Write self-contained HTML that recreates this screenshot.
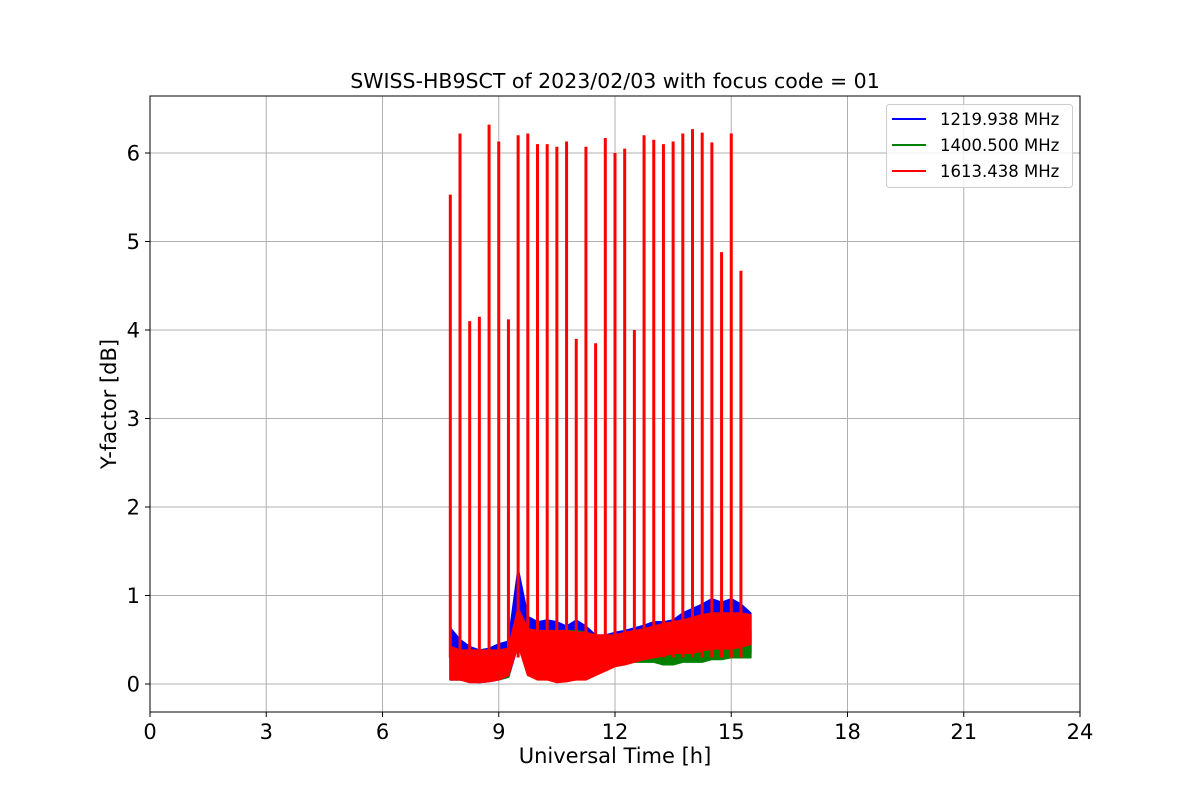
<!DOCTYPE html>
<html><head><meta charset="utf-8"><style>
body{margin:0;background:#fff}
svg text{font-family:"DejaVu Sans","Liberation Sans",sans-serif}
</style></head><body>
<svg id="chart" width="1200" height="800" xmlns="http://www.w3.org/2000/svg">
<rect width="1200" height="800" fill="#fff"/>
<g id="grid"></g>
<g id="series"></g>
<rect x="150" y="96" width="930" height="616" fill="none" stroke="#000" stroke-width="1"/>
<g id="ticks"></g>
<text x="615" y="88" font-size="20.5" text-anchor="middle">SWISS-HB9SCT of 2023/02/03 with focus code = 01</text>
<text x="615" y="763" font-size="21" text-anchor="middle">Universal Time [h]</text>
<text x="116" y="404" font-size="21" text-anchor="middle" transform="rotate(-90 116 404)">Y-factor [dB]</text>
<g>
<rect x="886.5" y="104.5" width="186" height="83" rx="3" fill="#fff" fill-opacity="0.8" stroke="#ccc"/>
<g><line x1="892" y1="119" x2="926" y2="119" stroke="#0000ff" stroke-width="2"/><text x="940" y="125" font-size="16.5">1219.938 MHz</text></g>
<g><line x1="892" y1="145" x2="926" y2="145" stroke="#008000" stroke-width="2"/><text x="940" y="151" font-size="16.5">1400.500 MHz</text></g>
<g><line x1="892" y1="171" x2="926" y2="171" stroke="#ff0000" stroke-width="2"/><text x="940" y="177" font-size="16.5">1613.438 MHz</text></g>
</g>
</svg>
<script>
const times=[7.75,8,8.25,8.5,8.75,9,9.25,9.5,9.75,10,10.25,10.5,10.75,11,11.25,11.5,11.75,12,12.25,12.5,12.75,13,13.25,13.5,13.75,14,14.25,14.5,14.75,15,15.25,15.5];
const blueHi=[.63,.5,.42,.38,.4,.45,.48,1.29,.76,.7,.72,.7,.65,.72,.65,.55,.55,.58,.6,.63,.66,.7,.7,.72,.8,.85,.9,.96,.92,.96,.9,.8];
const blueLo=[.05,.05,.03,.02,.03,.05,.08,.45,.2,.15,.15,.12,.15,.15,.15,.2,.2,.22,.25,.25,.28,.3,.3,.3,.3,.3,.32,.32,.33,.33,.33,.35];
const greenHi=[.32,.3,.3,.3,.3,.32,.35,.75,.6,.55,.6,.6,.6,.6,.58,.55,.55,.55,.56,.58,.6,.6,.6,.58,.58,.6,.6,.6,.58,.6,.6,.6];
const greenLo=[.05,.05,.03,.03,.05,.05,.08,.5,.2,.15,.15,.15,.15,.15,.18,.2,.22,.25,.25,.25,.25,.25,.22,.22,.25,.25,.25,.28,.28,.3,.3,.3];
const redHi=[.42,.38,.38,.38,.38,.38,.4,.85,.62,.6,.6,.6,.6,.58,.58,.55,.55,.55,.58,.6,.62,.65,.68,.7,.72,.75,.78,.8,.8,.8,.8,.78];
const redLo=[.05,.05,.02,.02,.03,.05,.1,.45,.1,.05,.05,.02,.03,.05,.05,.1,.15,.2,.22,.25,.28,.3,.32,.35,.35,.35,.38,.4,.4,.4,.42,.45];
const spikeTimes=[7.75,8,8.25,8.5,8.75,9,9.25,9.5,9.75,10,10.25,10.5,10.75,11,11.25,11.5,11.75,12,12.25,12.5,12.75,13,13.25,13.5,13.75,14,14.25,14.5,14.75,15,15.25];
const spikeHeights=[5.53,6.22,4.1,4.15,6.32,6.13,4.12,6.2,6.22,6.1,6.1,6.07,6.13,3.9,6.07,3.85,6.17,6.0,6.05,4.0,6.2,6.15,6.1,6.13,6.22,6.27,6.23,6.12,4.88,6.22,4.67];
const xTicks=[0,3,6,9,12,15,18,21,24];
const yTicks=[0,1,2,3,4,5,6];

const NS='http://www.w3.org/2000/svg';
const X=h=>150+h*(930/24);
const Y=v=>684-v*88.5;
function mk(tag,attrs,parent){const e=document.createElementNS(NS,tag);for(const k in attrs)e.setAttribute(k,attrs[k]);parent.appendChild(e);return e;}
const grid=document.getElementById('grid'),ticks=document.getElementById('ticks'),series=document.getElementById('series');
xTicks.forEach(t=>{
  const g=mk('line',{x1:X(t),x2:X(t),y1:96,y2:712,stroke:'#b0b0b0','stroke-width':1},grid);
  
  
  mk('line',{x1:X(t),x2:X(t),y1:712,y2:717,stroke:'#000'},ticks);
  const tx=mk('text',{x:X(t),y:739,'font-size':21,'text-anchor':'middle'},ticks);
  tx.textContent=t;
  
  
});
yTicks.forEach(t=>{
  const g=mk('line',{x1:150,x2:1080,y1:Y(t),y2:Y(t),stroke:'#b0b0b0','stroke-width':1},grid);
  
  
  mk('line',{x1:145,x2:150,y1:Y(t),y2:Y(t),stroke:'#000'},ticks);
  const tx=mk('text',{x:140,y:Y(t)+7.5,'font-size':21,'text-anchor':'end'},ticks);
  tx.textContent=t;
  
  
});
function band(hi,lo,color,name){
  let d='M'+times.map((t,i)=>X(t)+','+Y(hi[i])).join(' L');
  d+=' L'+times.slice().reverse().map((t,j)=>X(t)+','+Y(lo[times.length-1-j])).join(' L')+' Z';
  const p=mk('path',{d:d,fill:color,stroke:color,'stroke-width':2,'stroke-linejoin':'round'},series);
  
  
}
band(blueHi,blueLo,'#0000ff','series-1219-band');
band(greenHi,greenLo,'#008000','series-1400-band');
band(redHi,redLo,'#ff0000','series-1613-band');
spikeTimes.forEach((t,i)=>{
  const l=mk('line',{x1:X(t),x2:X(t),y1:Y(0.3),y2:Y(spikeHeights[i]),stroke:'#ff0000','stroke-width':3},series);
  
  
});
</script>
</body></html>
